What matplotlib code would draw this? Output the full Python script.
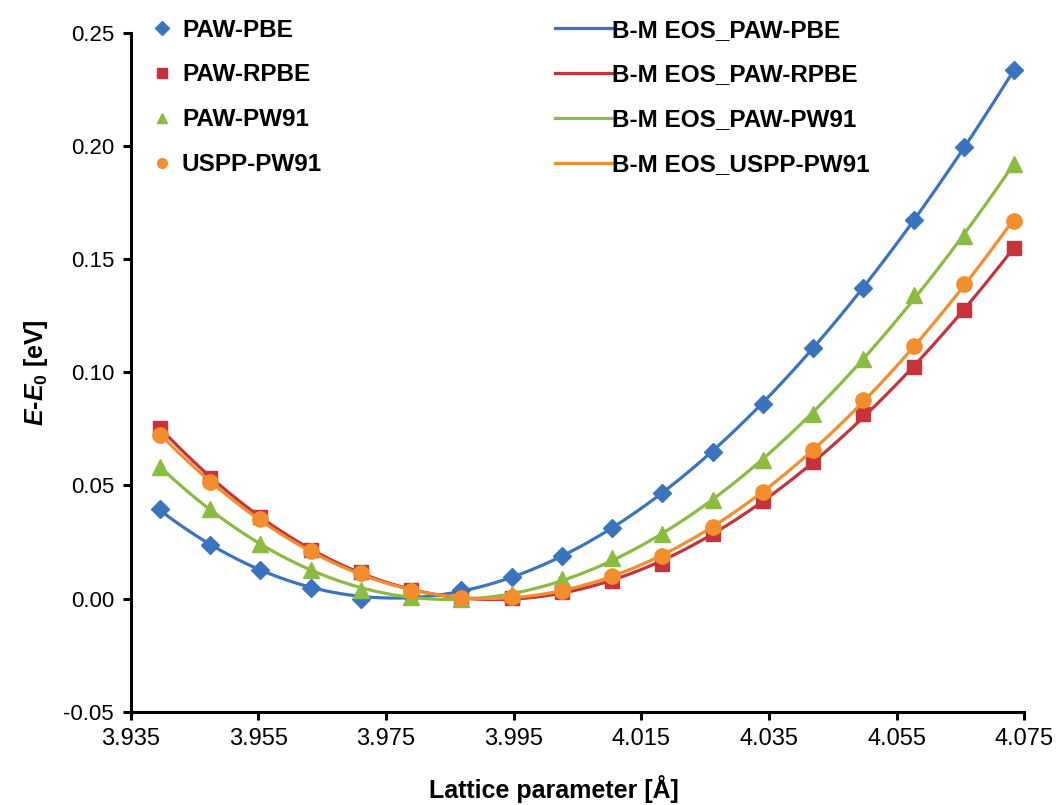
import numpy as np
import matplotlib
matplotlib.use("Agg")
import matplotlib.pyplot as plt
from matplotlib.lines import Line2D

plt.rcParams['font.family'] = ['Liberation Sans', 'DejaVu Sans']
plt.rcParams['mathtext.fontset'] = 'custom'
plt.rcParams['mathtext.rm'] = 'Liberation Sans:bold'
plt.rcParams['mathtext.it'] = 'Liberation Sans:bold:italic'

# lattice parameters (A)
lattice = [3.9396, 3.9475, 3.9553, 3.9632, 3.9711, 3.9789, 3.9868, 3.9947, 4.0026,
           4.0104, 4.0183, 4.0262, 4.0341, 4.0419, 4.0498, 4.0577, 4.0655, 4.0734]

# E - E0 (eV)
paw_pbe = [0.0395, 0.0235, 0.0127, 0.0047, 0.0000, 0.0010, 0.0040, 0.0097, 0.0190,
           0.0312, 0.0468, 0.0650, 0.0862, 0.1110, 0.1375, 0.1675, 0.1995, 0.2335]
paw_rpbe = [0.0755, 0.0535, 0.0362, 0.0215, 0.0118, 0.0040, 0.0003, 0.0003, 0.0028,
            0.0080, 0.0155, 0.0285, 0.0430, 0.0605, 0.0815, 0.1025, 0.1275, 0.1550]
paw_pw91 = [0.0580, 0.0397, 0.0242, 0.0127, 0.0040, 0.0005, 0.0000, 0.0020, 0.0085,
            0.0178, 0.0286, 0.0434, 0.0612, 0.0818, 0.1060, 0.1340, 0.1605, 0.1920]
uspp_pw91 = [0.0725, 0.0515, 0.0350, 0.0210, 0.0112, 0.0035, 0.0003, 0.0006, 0.0035,
             0.0100, 0.0190, 0.0316, 0.0470, 0.0655, 0.0880, 0.1115, 0.1390, 0.1670]

names = ['PAW-PBE', 'PAW-RPBE', 'PAW-PW91', 'USPP-PW91']
series = [paw_pbe, paw_rpbe, paw_pw91, uspp_pw91]
colors = ['#3A74BF', '#C4343A', '#8CBB44', '#F28E2E']
markers = ['D', 's', '^', 'o']
msizes = [9, 10, 11, 11]


def bm_fit(a, e):
    # Birch-Murnaghan EOS is a cubic in V^(-2/3) ~ a^-2
    a = np.asarray(a)
    c = np.polyfit(a ** -2, e, 3)
    aa = np.linspace(a.min(), a.max(), 300)
    return aa, np.polyval(c, aa ** -2)


fig = plt.figure(figsize=(10.61, 8.05), dpi=100)
ax = fig.add_axes([0.1232, 0.1159, 0.8422, 0.843])

pt_handles = []
ln_handles = []
for name, e, col, mk, ms in zip(names, series, colors, markers, msizes):
    ax.plot(lattice, e, linestyle='none', marker=mk, ms=ms, color=col, mec=col)
    aa, ee = bm_fit(lattice, e)
    ax.plot(aa, ee, color=col, lw=2.3)
    pt_handles.append(Line2D([], [], linestyle='none', marker=mk, ms=7, color=col))
    ln_handles.append(Line2D([], [], color=col, lw=2.3))

ax.set_xlim(3.935, 4.075)
ax.set_ylim(-0.05, 0.25)
ax.set_xticks(np.arange(3.935, 4.0751, 0.02))
ax.set_yticks(np.arange(-0.05, 0.2501, 0.05))
ax.xaxis.set_major_formatter(matplotlib.ticker.FormatStrFormatter('%.3f'))
ax.yaxis.set_major_formatter(matplotlib.ticker.FormatStrFormatter('%.2f'))
ax.tick_params(direction='out', length=6, width=2.2, labelsize=16, pad=6)
ax.tick_params(axis='x', labelsize=17)
for s in ['top', 'right']:
    ax.spines[s].set_visible(False)
for s in ['left', 'bottom']:
    ax.spines[s].set_linewidth(2.2)

ax.set_xlabel('Lattice parameter [Å]', fontsize=18, fontweight='bold', labelpad=18, x=0.474)
ax.set_ylabel('$E$-$E_0$ [eV]', fontsize=18, fontweight='bold', labelpad=10)

fs = 17.5
leg1 = fig.legend(pt_handles, names, loc='upper left', bbox_to_anchor=(0.1344, 0.989),
                  borderaxespad=0, frameon=False, handlelength=0.8, handletextpad=0.42,
                  labelspacing=0.9, prop={'weight': 'bold', 'size': fs})
leg2 = fig.legend(ln_handles, ['B-M EOS_' + n for n in names], loc='upper left',
                  bbox_to_anchor=(0.514, 0.989), borderaxespad=0, frameon=False,
                  handlelength=2.35, handletextpad=0.0, labelspacing=0.9,
                  prop={'weight': 'bold', 'size': fs})

fig.savefig('out.png', dpi=100)
